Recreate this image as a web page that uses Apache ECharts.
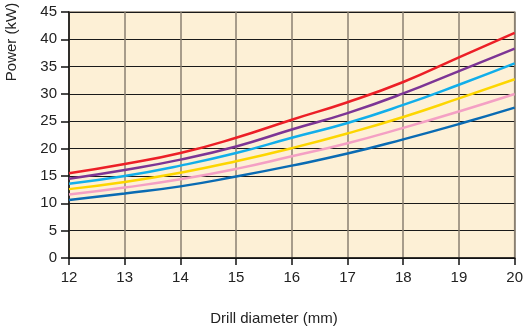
<!DOCTYPE html>
<html><head><meta charset="utf-8">
<script src="https://cdn.jsdelivr.net/npm/echarts@6/dist/echarts.min.js"></script>
<style>html,body{margin:0;padding:0;background:#fff}#c{width:526px;height:331px}</style>
</head><body><div id="c"></div>
<script>
const diameters = [12, 13, 14, 15, 16, 17, 18, 19, 20];
const redSeries    = [15.5, 17.2, 19.2, 22.0, 25.3, 28.5, 32.2, 36.7, 41.2];
const purpleSeries = [14.5, 16.1, 18.0, 20.4, 23.5, 26.5, 30.1, 34.2, 38.3];
const cyanSeries   = [13.6, 15.0, 16.9, 19.2, 22.0, 24.7, 28.0, 31.7, 35.6];
const yellowSeries = [12.6, 13.9, 15.6, 17.7, 20.1, 22.8, 25.8, 29.2, 32.7];
const pinkSeries   = [11.6, 12.9, 14.4, 16.3, 18.6, 21.0, 23.8, 26.8, 30.0];
const blueSeries   = [10.6, 11.8, 13.1, 14.9, 16.9, 19.1, 21.7, 24.5, 27.5];
const yTicks = [0, 5, 10, 15, 20, 25, 30, 35, 40, 45];

const chart = echarts.init(document.getElementById('c'), null, {renderer: 'canvas'});
const font = 'Liberation Sans, Arial, sans-serif';
function mk(data, color) {
  return {
    type: 'line', smooth: 0.5, symbol: 'none',
    data: diameters.map((d, i) => [d, data[i]]),
    lineStyle: {color: color, width: 2.5}, z: 5
  };
}
chart.setOption({
  animation: false,
  backgroundColor: '#fff',
  grid: {left: 69, right: 10, top: 12, bottom: 73, show: true, backgroundColor: '#fdf0d6', borderColor: '#8a8072', borderWidth: 1.5},
  xAxis: {
    type: 'value', min: 12, max: 20, interval: 1,
    axisLine: {show: true, lineStyle: {color: '#111', width: 1.5}},
    axisTick: {show: true, length: 7, lineStyle: {color: '#111', width: 1.5}},
    axisLabel: {color: '#222', fontSize: 15, fontFamily: font, margin: 12},
    splitLine: {show: true, lineStyle: {color: '#8a8072', width: 1.5}}
  },
  yAxis: {
    type: 'value', min: yTicks[0], max: yTicks[yTicks.length - 1], interval: 5,
    axisLine: {show: true, lineStyle: {color: '#111', width: 1.5}},
    axisTick: {show: true, length: 8, lineStyle: {color: '#111', width: 1.5}},
    axisLabel: {color: '#222', fontSize: 15, fontFamily: font, margin: 12},
    splitLine: {show: true, lineStyle: {color: '#1a1a1a', width: 1.2}}
  },
  graphic: [
    {type: 'text', x: 12, y: 42, rotation: Math.PI / 2, style: {text: 'Power (kW)', font: '15px ' + font, fill: '#222', textAlign: 'center', textVerticalAlign: 'middle'}},
    {type: 'text', x: 274, y: 319, style: {text: 'Drill diameter (mm)', font: '15px ' + font, fill: '#222', textAlign: 'center', textVerticalAlign: 'middle'}}
  ],
  series: [
    mk(blueSeries, '#0a6bb3'),
    mk(pinkSeries, '#f4a0c4'),
    mk(yellowSeries, '#fdd600'),
    mk(cyanSeries, '#11aeea'),
    mk(purpleSeries, '#7d3595'),
    mk(redSeries, '#ec1f27')
  ]
});
</script></body></html>
